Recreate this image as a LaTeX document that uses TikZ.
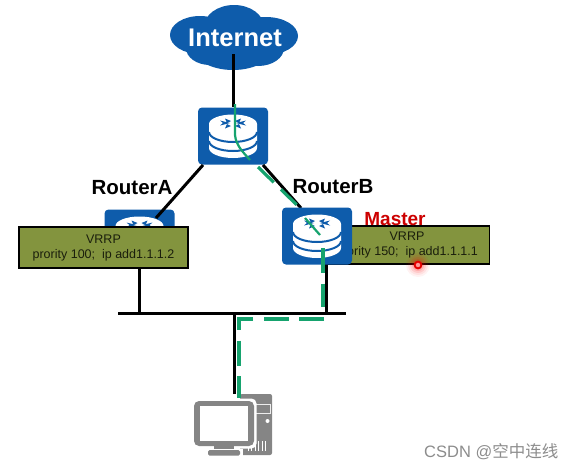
\documentclass[tikz,border=0pt]{standalone}
\usepackage{fontspec}
\setmainfont{Liberation Sans}
\newfontfamily\cjkf{Noto Sans CJK SC}
\usetikzlibrary{calc}
\definecolor{rblue}{RGB}{14,92,171}
\definecolor{boxg}{RGB}{131,148,62}
\definecolor{pathg}{RGB}{22,163,110}
\definecolor{pcgray}{RGB}{133,133,133}
\tikzset{
  routerbox/.style={fill=rblue,rounded corners=4pt,minimum width=70pt,minimum height=57pt,inner sep=0pt},
  vrrpbox/.style={fill=boxg,draw=black,line width=1.1pt,align=center,inner sep=0pt,font=\fontsize{12.5}{15}\selectfont,text=black!80!boxg},
  wire/.style={line width=3pt,draw=black},
  greenpath/.style={line width=3.2pt,draw=pathg},
  greendash/.style={greenpath,dash pattern=on 25pt off 10.5pt},
  lbl/.style={font=\bfseries\fontsize{20.5}{24}\selectfont,inner sep=0pt},
}
\newcommand{\routericon}[1]{%
  \begin{scope}[shift={(#1)}]
    \fill[white] (-24,-9) -- (-24,15) arc[start angle=180,end angle=0,x radius=24,y radius=10] -- (24,-9) -- cycle;
    \draw[rblue,line width=2pt] (-24,-1) arc[start angle=180,end angle=0,x radius=24,y radius=10];
    \draw[rblue,line width=2pt] (-24,8) arc[start angle=180,end angle=0,x radius=24,y radius=10];
    \fill[white] (0,-9) ellipse[x radius=24,y radius=9.5];
    \fill[rblue] (-13,-12.5) -- (-3,-10) -- (-13,-7.5) -- (-10,-10) -- cycle;
    \fill[rblue] (13,-12.5) -- (3,-10) -- (13,-7.5) -- (10,-10) -- cycle;
    \fill[rblue] (-2,-12) -- (-8,-14.5) -- (-6,-10) -- cycle;
    \fill[rblue] (2,-12) -- (8,-14.5) -- (6,-10) -- cycle;
    \fill[rblue] (-2,-7) -- (-8,-4.5) -- (-6,-9) -- cycle;
    \fill[rblue] (2,-7) -- (8,-4.5) -- (6,-9) -- cycle;
  \end{scope}}
\begin{document}
\begin{tikzpicture}[x=1pt,y=-1pt]
\useasboundingbox (0,0) rectangle (575,471);
% cloud
\fill[rblue] (200,35) ellipse[x radius=30,y radius=19]
  (234,27) ellipse[x radius=30,y radius=22]
  (266,36) ellipse[x radius=32,y radius=19]
  (233,45) ellipse[x radius=42,y radius=25]
  (210,48) ellipse[x radius=24,y radius=17]
  (258,48) ellipse[x radius=26,y radius=18];
\node[font=\bfseries\fontsize{25.5}{28}\selectfont,text=white,inner sep=0pt] (cloud) at (235,38) {Internet};
\coordinate (cloudfoot) at (233,54);
% routers
\node[routerbox] (top) at (233,136) {};
\node[routerbox] (ra) at (139.5,238) {};
\routericon{233,133}
\routericon{139.5,235}
\draw[wire] (cloudfoot) -- (top.north);
\coordinate (topl) at (203,165);
\coordinate (topr) at (263,165);
\coordinate (raT) at (156,218);
\coordinate (rbT) at (301,208);
\draw[wire] (topl) -- (raT);
\draw[wire] (topr) -- (rbT);
% VRRP boxes
\node[vrrpbox,minimum width=169pt,minimum height=41pt] (va) at (103.5,247.5) {VRRP\\prority 100;\ \ ip add1.1.1.2};
\node[vrrpbox,minimum width=165pt,minimum height=38pt] (vb) at (407,245) {VRRP\\prority 150;\ \ ip add1.1.1.1};
\node[routerbox] (rb) at (317,236) {};
\routericon{317,233}
\node[lbl] (la) at (132,188) {RouterA};
\node[lbl] (lb) at (333,187) {RouterB};
\node[font=\bfseries\fontsize{19}{22}\selectfont,text=red!80!black,inner sep=0pt] (master) at (395,219) {Master};
% LAN
\coordinate (lanl) at (118,313);
\coordinate (lanr) at (346,313);
\coordinate (lana) at (139,313);
\coordinate (lanb) at (326,313);
\coordinate (lanc) at (234,313);
\coordinate (pcT) at (234,394);
\draw[wire] (lanl) -- (lanr);
\draw[wire] (va.south -| lana) -- (lana);
\draw[wire] (rb.south -| lanb) -- (lanb);
\draw[wire] (lanc) -- (pcT);
% PC
\node[fill=pcgray,rounded corners=2pt,minimum width=32pt,minimum height=61pt,inner sep=0pt] (tower) at (256,424.5) {};
\draw[white!85!pcgray,line width=1pt] (253,404.5) -- (270,404.5) -- (270,413) -- (253,413);
\fill[white] (267.5,421) circle[radius=2];
\foreach \x in {248,251.5,255,258.5,262,265} \draw[white,line width=1pt] (\x,441) -- (\x,451);
\fill[white,rounded corners=5pt] (191,398.5) rectangle (256.5,448.5);
\node[fill=pcgray,rounded corners=5pt,minimum width=60pt,minimum height=45pt,inner sep=0pt] (mon) at (224,423.5) {};
\fill[white] (200,406) rectangle (248,441);
\fill[pcgray] (214,446) rectangle (234,451);
\fill[white] (205,448.5) rectangle (243,456.5);
\fill[pcgray,rounded corners=1.5pt] (208,450) rectangle (240,455.5);
% green path
\coordinate (g0) at (235,104);
\coordinate (g1) at (235,135);
\coordinate (g2) at (250,160);
\coordinate (g2a) at (258,167);
\coordinate (g3) at (300,208);
\coordinate (g4) at (305,218);
\coordinate (g5) at (320,235);
\coordinate (g6) at (323,248);
\coordinate (g7) at (323,307);
\coordinate (g8) at (324,319);
\coordinate (g9) at (239,319);
\coordinate (g10) at (239,398);
\draw[greenpath,line width=2.2pt] (g0) -- (g1) .. controls (236,146) and (244,153) .. (g2);
\draw[greendash,dash pattern=on 22pt off 10pt] (g2a) -- (g3);
\draw[greenpath,line width=2.2pt] (g4) -- (g5);
\draw[greendash] (g6) -- (g7);
\draw[greendash] (g8) -- (g9) -- (g10);
% pointer
\foreach \r/\o in {12/0.05,10/0.07,8/0.1,6/0.14} \fill[red,opacity=\o] (418,265) circle[radius=\r];
\draw[red!90!black,line width=1.9pt,fill=white!60!red] (418,265) circle[radius=3.4];
% watermark
\node[font=\fontsize{16.5}{18}\selectfont,text=black!45,inner sep=0pt,anchor=east] (wm) at (558.5,452) {CSDN @{\cjkf 空中连线}};
\end{tikzpicture}
\end{document}
